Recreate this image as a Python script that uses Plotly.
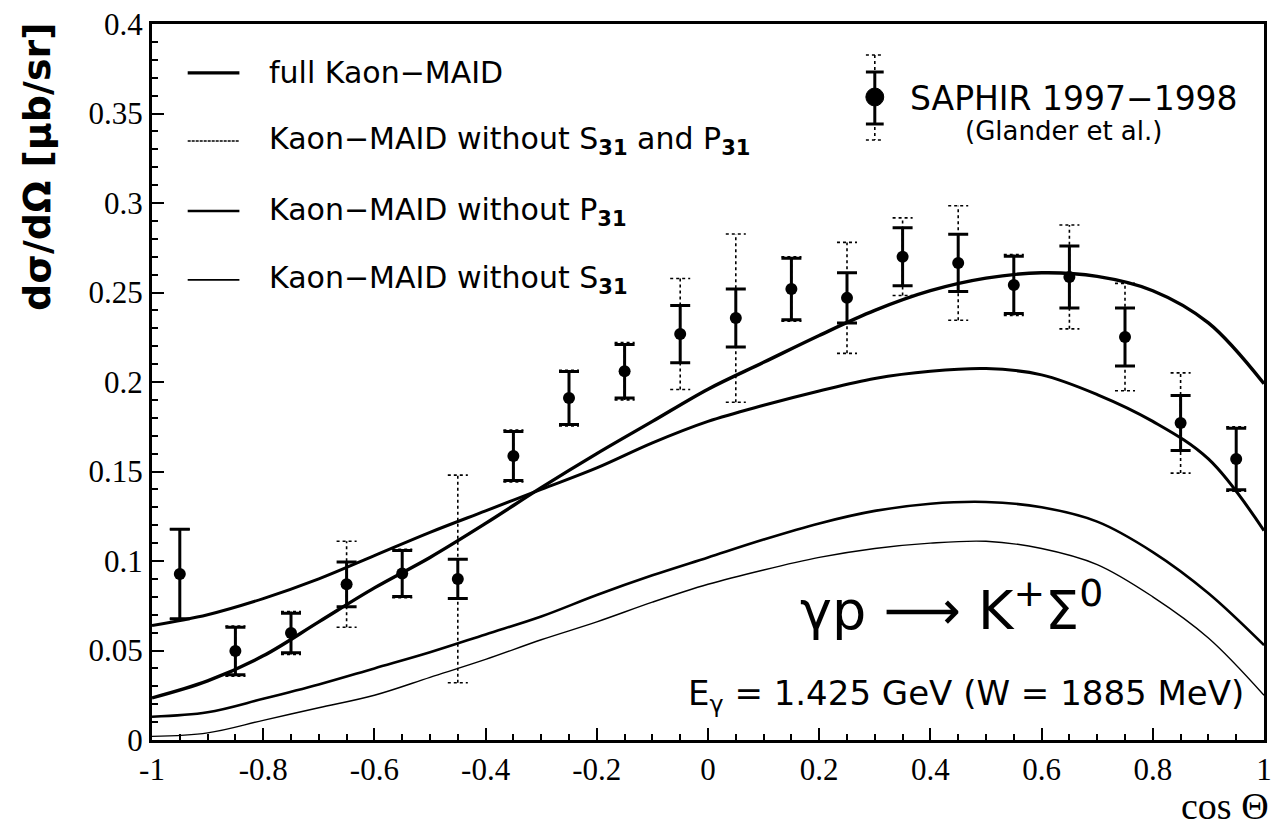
import plotly.graph_objects as go

# ---- SAPHIR 1997-1998 measurement (Glander et al.) ----
cos_theta = [-0.95, -0.85, -0.75, -0.65, -0.55, -0.45, -0.35, -0.25, -0.15, -0.05,
             0.05, 0.15, 0.25, 0.35, 0.45, 0.55, 0.65, 0.75, 0.85, 0.95]
dsigma = [0.0927, 0.0497, 0.0598, 0.0870, 0.0930, 0.0900, 0.1587, 0.1910, 0.2060, 0.2268,
          0.2357, 0.2520, 0.2470, 0.2700, 0.2665, 0.2542, 0.2587, 0.2251, 0.1771, 0.1570]
stat_err = [0.0250, 0.0133, 0.0110, 0.0125, 0.0128, 0.0110, 0.0137, 0.0148, 0.0150, 0.0160,
            0.0162, 0.0172, 0.0140, 0.0162, 0.0160, 0.0160, 0.0173, 0.0162, 0.0154, 0.0172]
total_err = [0.0250, 0.0140, 0.0120, 0.0240, 0.0135, 0.0580, 0.0145, 0.0155, 0.0160, 0.0310,
             0.0470, 0.0180, 0.0310, 0.0217, 0.0320, 0.0170, 0.0290, 0.0300, 0.0280, 0.0180]

# ---- Kaon-MAID model curves ----
model_cos = [-1.0, -0.9, -0.8, -0.7, -0.6, -0.5, -0.4, -0.3, -0.2, -0.1, 0.0,
             0.1, 0.2, 0.3, 0.4, 0.5, 0.6, 0.7, 0.8, 0.9, 1.0]
full_maid = [0.0235, 0.0330, 0.0470, 0.0660, 0.0850, 0.1020, 0.1210, 0.1410, 0.1600, 0.1780, 0.1960,
             0.2110, 0.2260, 0.2400, 0.2510, 0.2580, 0.2610, 0.2590, 0.2510, 0.2330, 0.1990]
no_s31_p31 = [0.0020, 0.0040, 0.0110, 0.0180, 0.0250, 0.0350, 0.0450, 0.0560, 0.0660, 0.0770, 0.0870,
              0.0950, 0.1020, 0.1070, 0.1100, 0.1110, 0.1070, 0.0980, 0.0800, 0.0570, 0.0250]
no_p31 = [0.0640, 0.0700, 0.0790, 0.0900, 0.1030, 0.1160, 0.1280, 0.1400, 0.1520, 0.1660, 0.1780,
          0.1870, 0.1950, 0.2020, 0.2060, 0.2075, 0.2040, 0.1930, 0.1780, 0.1570, 0.1170]
no_s31 = [0.0130, 0.0155, 0.0230, 0.0310, 0.0400, 0.0490, 0.0590, 0.0690, 0.0810, 0.0920, 0.1020,
          0.1120, 0.1210, 0.1280, 0.1320, 0.1330, 0.1300, 0.1220, 0.1050, 0.0820, 0.0530]

# ---- axis ticks ----
x_tick_vals = [-1, -0.8, -0.6, -0.4, -0.2, 0, 0.2, 0.4, 0.6, 0.8, 1]
x_tick_text = ["-1", "-0.8", "-0.6", "-0.4", "-0.2", "0", "0.2", "0.4", "0.6", "0.8", "1"]
y_tick_vals = [0, 0.05, 0.1, 0.15, 0.2, 0.25, 0.3, 0.35, 0.4]
y_tick_text = ["0", "0.05", "0.1", "0.15", "0.2", "0.25", "0.3", "0.35", "0.4"]

INK = "black"
SANS = "DejaVu Sans"
SERIF = "Liberation Serif"

curves = [
    ("full Kaon-MAID", full_maid, 3.4),
    ("Kaon-MAID without S31 and P31", no_s31_p31, 1.4),
    ("Kaon-MAID without P31", no_p31, 3.0),
    ("Kaon-MAID without S31", no_s31, 2.6),
]

fig = go.Figure()

for name, vals, w in curves:
    fig.add_trace(go.Scatter(
        x=model_cos, y=vals, mode="lines", name=name,
        line=dict(color=INK, width=w, shape="spline", smoothing=1.0),
        showlegend=False, hoverinfo="skip"))

# total (stat + syst) uncertainties: dotted bars with dotted caps
cap = 0.018
ex, ey = [], []
for c, v, e in zip(cos_theta, dsigma, total_err):
    lo, hi = v - e, v + e
    ex += [c, c, None, c - cap, c + cap, None, c - cap, c + cap, None]
    ey += [lo, hi, None, hi, hi, None, lo, lo, None]
fig.add_trace(go.Scatter(x=ex, y=ey, mode="lines", showlegend=False, hoverinfo="skip",
                         line=dict(color=INK, width=1.6, dash="dot")))

# data points with statistical error bars
fig.add_trace(go.Scatter(
    x=cos_theta, y=dsigma, mode="markers", name="SAPHIR 1997-1998",
    marker=dict(color=INK, size=12, symbol="circle"),
    error_y=dict(type="data", array=stat_err, visible=True,
                 color=INK, thickness=3, width=10),
    showlegend=False))

# ---- legend for the model curves ----
shapes = []
annotations = []
leg_rows = [0.9316, 0.8366, 0.7388, 0.6425]
leg_text = [
    "full Kaon\u2212MAID",
    "Kaon\u2212MAID without S<sub><b>31</b></sub> and P<sub><b>31</b></sub>",
    "Kaon\u2212MAID without P<sub><b>31</b></sub>",
    "Kaon\u2212MAID without S<sub><b>31</b></sub>",
]
leg_style = [dict(width=3.2), dict(width=1.4, dash="3px,1px"), dict(width=2.4), dict(width=1.8)]
for yy, txt, st in zip(leg_rows, leg_text, leg_style):
    shapes.append(dict(type="line", xref="paper", yref="paper",
                       x0=0.0321, x1=0.0786, y0=yy, y1=yy,
                       line=dict(color=INK, **st)))
    annotations.append(dict(xref="paper", yref="paper", x=0.1036, y=yy,
                            xanchor="left", yanchor="middle", showarrow=False,
                            text=txt, font=dict(family=SANS, size=30, color=INK)))

# ---- legend for the data ----
lx = (880 - 152) / 1120
def py(p):
    return (740 - p) / 716
shapes += [
    dict(type="line", xref="paper", yref="paper", x0=lx, x1=lx, y0=py(55), y1=py(140),
         line=dict(color=INK, width=1.6, dash="dot")),
    dict(type="line", xref="paper", yref="paper", x0=lx, x1=lx, y0=py(72), y1=py(124),
         line=dict(color=INK, width=3)),
    dict(type="line", xref="paper", yref="paper", x0=lx - 0.008, x1=lx + 0.008,
         y0=py(72), y1=py(72), line=dict(color=INK, width=3)),
    dict(type="line", xref="paper", yref="paper", x0=lx - 0.008, x1=lx + 0.008,
         y0=py(124), y1=py(124), line=dict(color=INK, width=3)),
    dict(type="line", xref="paper", yref="paper", x0=lx - 0.008, x1=lx + 0.008,
         y0=py(55), y1=py(55), line=dict(color=INK, width=1.4, dash="dot")),
    dict(type="line", xref="paper", yref="paper", x0=lx - 0.008, x1=lx + 0.008,
         y0=py(140), y1=py(140), line=dict(color=INK, width=1.4, dash="dot")),
    dict(type="circle", xref="paper", yref="paper", fillcolor=INK, line=dict(color=INK, width=1),
         x0=lx - 9 / 1120, x1=lx + 9 / 1120, y0=py(106), y1=py(88)),
]
annotations += [
    dict(xref="paper", yref="paper", x=(913 - 152) / 1120, y=py(98), xanchor="left",
         yanchor="middle", showarrow=False, text="SAPHIR 1997\u22121998",
         font=dict(family=SANS, size=33, color=INK)),
    dict(xref="paper", yref="paper", x=(1070 - 152) / 1120, y=py(131), xanchor="center",
         yanchor="middle", showarrow=False, text="(Glander et al.)",
         font=dict(family=SANS, size=26, color=INK)),
    # reaction and kinematics
    dict(xref="paper", yref="paper", x=(957 - 152) / 1120, y=py(606), xanchor="center",
         yanchor="middle", showarrow=False,
         text="\u03b3p \u27f6 K<sup>+</sup>\u03a3<sup>0</sup>",
         font=dict(family=SANS, size=54, color=INK)),
    dict(xref="paper", yref="paper", x=(972 - 152) / 1120, y=py(695), xanchor="center",
         yanchor="middle", showarrow=False,
         text="E<sub>\u03b3</sub> = 1.425 GeV (W = 1885 MeV)",
         font=dict(family=SANS, size=34, color=INK)),
    # axis titles
    dict(xref="paper", yref="paper", x=-140 / 1120, y=1.005, xanchor="left", yanchor="top",
         textangle=-90, showarrow=False, text="<b>d\u03c3/d\u03a9 [\u03bcb/sr]</b>",
         font=dict(family=SANS, size=38, color=INK)),
    dict(xref="paper", yref="paper", x=1.006, y=py(806), xanchor="right", yanchor="middle",
         showarrow=False, text="cos \u0398",
         font=dict(family=SERIF, size=38, color=INK)),
]

axis_common = dict(showline=True, linecolor=INK, linewidth=3, mirror=True,
                   ticks="inside", tickcolor=INK, tickwidth=2, ticklen=12,
                   showgrid=False, zeroline=False,
                   tickfont=dict(family=SERIF, size=31, color=INK))

fig.update_xaxes(range=[-1, 1], tickvals=x_tick_vals, ticktext=x_tick_text,
                 minor=dict(dtick=0.05, ticks="inside", ticklen=6, tickwidth=2,
                            tickcolor=INK, showgrid=False),
                 **axis_common)
fig.update_yaxes(range=[0, 0.4], tickvals=y_tick_vals, ticktext=y_tick_text,
                 minor=dict(dtick=0.01, ticks="inside", ticklen=6, tickwidth=2,
                            tickcolor=INK, showgrid=False),
                 **axis_common)

fig.update_layout(
    width=1278, height=829,
    margin=dict(l=152, r=6, t=24, b=89),
    paper_bgcolor="white", plot_bgcolor="white",
    shapes=shapes, annotations=annotations,
    showlegend=False,
)

fig.write_html("out.html")
